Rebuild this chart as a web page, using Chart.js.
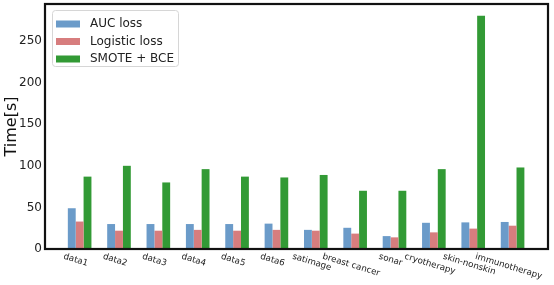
<!DOCTYPE html>
<html>
<head>
<meta charset="utf-8">
<script src="https://cdn.jsdelivr.net/npm/chart.js@4.4.1/dist/chart.umd.min.js"></script>
<style>
  html, body { margin: 0; padding: 0; background: #fff; }
  #c { display: block; }
</style>
</head>
<body>
<canvas id="c" width="554" height="285"></canvas>
<script>
// values
var categories = ['data1', 'data2', 'data3', 'data4', 'data5', 'data6', 'satimage',
  'breast cancer', 'sonar', 'cryotherapy', 'skin-nonskin', 'immunotherapy'];
var auc_loss = [49, 30, 30, 30, 30, 30.5, 23, 25.5, 15.5, 31.5, 32, 32.5];
var logistic_loss = [33, 22, 22, 23, 22, 23, 22, 18.5, 14, 20, 24.5, 28];
var smote_bce = [87, 100, 80, 96, 87, 86, 89, 70, 70, 96, 280.5, 98];
var y_ticks = [0, 50, 100, 150, 200, 250];

var FONT = 'DejaVu Sans';

function points(vals) {
  return vals.map(function (v, i) { return { x: i, y: v }; });
}

// box around the plot area
var framePlugin = {
  id: 'frame',
  afterDatasetsDraw: function (chart) {
    var a = chart.chartArea, ctx = chart.ctx;
    ctx.save();
    ctx.lineWidth = 2.2;
    ctx.strokeStyle = '#111';
    ctx.strokeRect(a.left, a.top, a.right - a.left, a.bottom - a.top);
    ctx.restore();
  }
};

// x labels turned clockwise, like the reference
var xLabelPlugin = {
  id: 'xlabels',
  afterDraw: function (chart) {
    var ctx = chart.ctx, xs = chart.scales.x, a = chart.chartArea;
    var ang = 17 * Math.PI / 180;
    ctx.save();
    ctx.font = '8.7px "' + FONT + '"';
    ctx.fillStyle = '#1a1a1a';
    ctx.textAlign = 'center';
    ctx.textBaseline = 'middle';
    categories.forEach(function (name, i) {
      var w = ctx.measureText(name).width, h = 9;
      var bh = w * Math.sin(ang) + h * Math.cos(ang);
      var cx = xs.getPixelForValue(i - 0.1);
      var cy = a.bottom + 3 + bh / 2;
      ctx.save();
      ctx.translate(cx, cy);
      ctx.rotate(ang);
      ctx.fillText(name, 0, 0);
      ctx.restore();
    });
    ctx.restore();
  }
};

// legend sitting inside the plot, top left
var legendPlugin = {
  id: 'innerLegend',
  afterDraw: function (chart) {
    var ctx = chart.ctx, a = chart.chartArea;
    var x0 = a.left + 7.5, y0 = a.top + 6.5;
    ctx.save();
    ctx.beginPath();
    ctx.roundRect(x0, y0, 126, 56, 3);
    ctx.fillStyle = 'rgba(255,255,255,0.85)';
    ctx.fill();
    ctx.strokeStyle = '#d6d6d6';
    ctx.lineWidth = 1;
    ctx.stroke();
    ctx.font = '12px "' + FONT + '"';
    ctx.textBaseline = 'middle';
    chart.data.datasets.forEach(function (ds, i) {
      var cy = y0 + 13.5 + i * 17.5;
      ctx.fillStyle = ds.backgroundColor;
      ctx.fillRect(x0 + 3.5, cy - 3.5, 24, 7);
      ctx.fillStyle = '#222';
      ctx.fillText(ds.label, x0 + 37.5, cy);
    });
    ctx.restore();
  }
};

new Chart(document.getElementById('c'), {
  type: 'bar',
  data: {
    datasets: [
      { label: 'AUC loss', data: points(auc_loss), backgroundColor: '#6b9bc9' },
      { label: 'Logistic loss', data: points(logistic_loss), backgroundColor: '#d77d7e' },
      { label: 'SMOTE + BCE', data: points(smote_bce), backgroundColor: '#329a35' }
    ]
  },
  options: {
    responsive: false,
    animation: false,
    layout: { padding: { top: 4, right: 6, left: 0, bottom: 0 } },
    datasets: { bar: { categoryPercentage: 0.6, barPercentage: 1.0, borderWidth: 0 } },
    plugins: { legend: { display: false }, tooltip: { enabled: false } },
    scales: {
      x: {
        type: 'linear',
        min: -0.88,
        max: 11.9,
        offset: false,
        grid: { display: false, drawTicks: false },
        border: { display: false },
        ticks: { display: false },
        afterFit: function (s) { s.height = 36; s.paddingLeft = 0; s.paddingRight = 0; }
      },
      y: {
        min: 0,
        max: 294.5,
        grid: { display: false, drawTicks: false },
        border: { display: false },
        ticks: {
          includeBounds: false,
          stepSize: 50,
          padding: 3,
          color: '#222',
          font: { family: FONT, size: 12 }
        },
        afterBuildTicks: function (s) {
          s.ticks = y_ticks.map(function (v) { return { value: v }; });
        },
        title: {
          display: true,
          text: 'Time[s]',
          color: '#111',
          font: { family: FONT, size: 16 },
          padding: { top: 2, bottom: 0 }
        },
        afterFit: function (s) { s.width = 45; s.paddingTop = 0; s.paddingBottom = 0; }
      }
    }
  },
  plugins: [framePlugin, xLabelPlugin, legendPlugin]
});
</script>
</body>
</html>
